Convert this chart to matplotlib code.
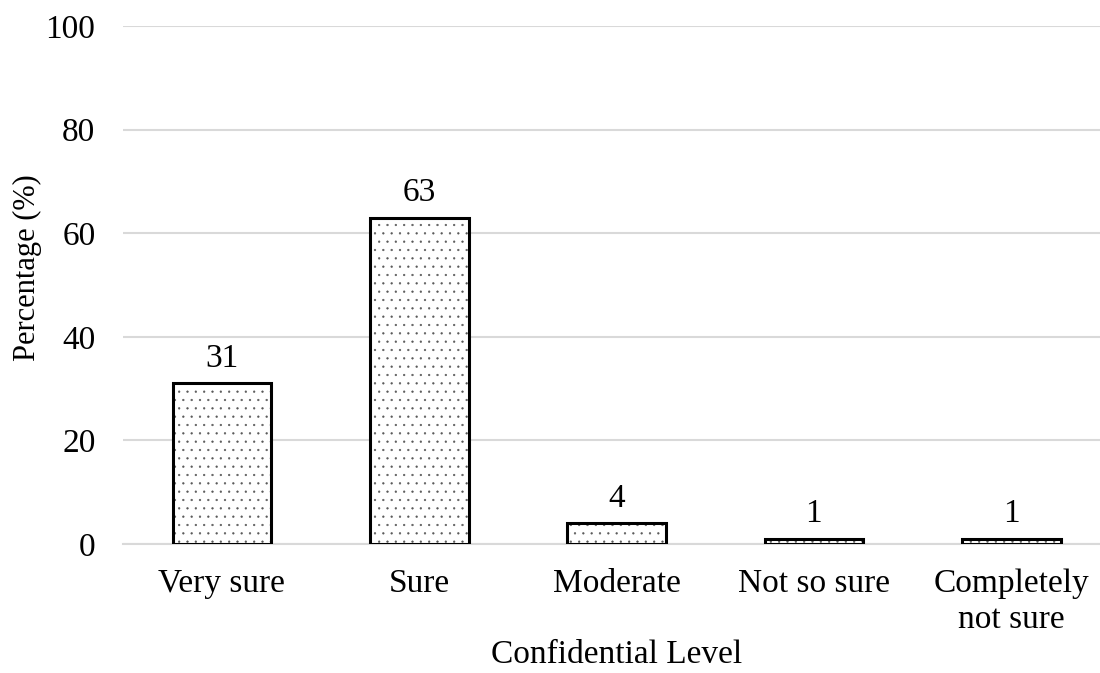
import matplotlib
matplotlib.use("Agg")
import matplotlib.pyplot as plt

categories = ["Very sure", "Sure", "Moderate", "Not so sure", "Completely\nnot sure"]
values = [31, 63, 4, 1, 1]
yticks = [0, 20, 40, 60, 80, 100]

plt.rcParams['font.family'] = ['Liberation Serif', 'DejaVu Serif']
plt.rcParams['hatch.linewidth'] = 0.4

FS = 24
fig = plt.figure(figsize=(11, 6.73), dpi=100)
ax = fig.add_axes([0.112, 0.1917, 0.897, 0.7697])
x = list(range(len(categories)))
bars = ax.bar(x, values, width=0.5, color='white', edgecolor='black', linewidth=2.2, hatch='..', zorder=3)
for b in bars:
    b._hatch_color = (0.35, 0.35, 0.35, 1)
for xi, v in zip(x, values):
    ax.text(xi, v + 1.8, str(v), ha='center', va='bottom', fontsize=FS)
ax.set_xlim(-0.5, 4.5)
ax.set_ylim(0, 100)
ax.set_yticks(yticks)
ax.set_xticks(x)
ax.set_xticklabels(categories, fontsize=FS, linespacing=1.22)
ax.tick_params(axis='y', labelsize=FS, length=0, pad=20)
ax.tick_params(axis='x', length=0, pad=18)
ax.grid(axis='y', color='#d9d9d9', linewidth=1.5, zorder=0)
for s in ['top', 'right', 'left']:
    ax.spines[s].set_visible(False)
ax.spines['bottom'].set_color('#d9d9d9')
ax.spines['bottom'].set_linewidth(1.5)
fig.text(27 / 1100, 1 - 268 / 673, "Percentage (%)", rotation=90, ha='center', va='center', fontsize=22)
fig.text(617 / 1100, 1 - 655 / 673, "Confidential Level", ha='center', va='center', fontsize=FS)
fig.savefig("out.png", dpi=100)
